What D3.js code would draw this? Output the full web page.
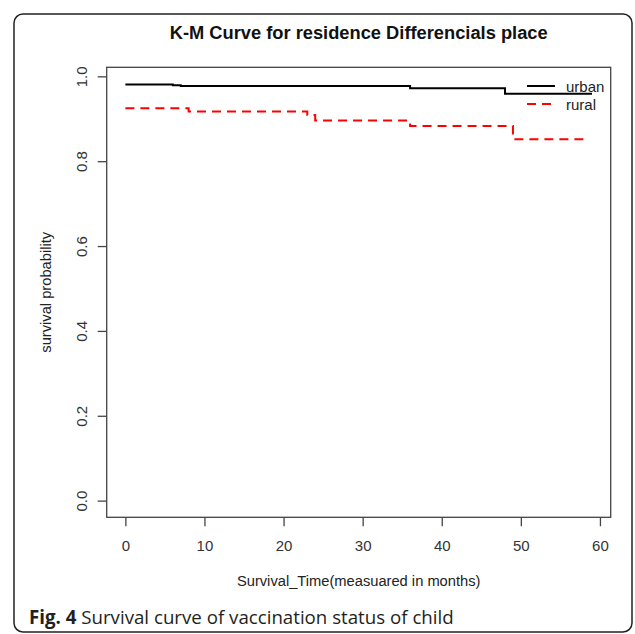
<!DOCTYPE html>
<html>
<head>
<meta charset="utf-8">
<script src="https://cdn.jsdelivr.net/npm/d3@7"></script>
<style>
  html, body { margin: 0; padding: 0; background: #fff; }
  svg { display: block; }
</style>
</head>
<body>
<div id="chart"></div>
<script>
const xTicks = [0, 10, 20, 30, 40, 50, 60];
const yTicks = [0, 0.2, 0.4, 0.6, 0.8, 1.0];

// K-M steps
const urbanTime = [0, 6, 7, 36, 48, 59];
const urbanSurv = [0.981, 0.979, 0.977, 0.972, 0.959, 0.959];
const ruralTime = [0, 8, 23, 24, 36, 49, 58];
const ruralSurv = [0.925, 0.917, 0.909, 0.896, 0.883, 0.852, 0.852];

const series = [
    { label: 'urban', time: urbanTime, surv: urbanSurv, color: '#000', dash: null },
    { label: 'rural', time: ruralTime, surv: ruralSurv, color: '#ff0000', dash: '9,6' }
];

const width = 635;
const height = 634;
const box = { left: 106.7, right: 610.7, top: 67.3, bottom: 517.3 };
const font = '"Liberation Sans", Arial, sans-serif';

// R style: data range padded by 4% on each side
const xlim = [0, 59];
const ylim = [0, 0.982];
const xPad = (xlim[1] - xlim[0]) * 0.04;
const yPad = (ylim[1] - ylim[0]) * 0.04;

const svg = d3.select('#chart')
    .append('svg')
    .attr('width', width)
    .attr('height', height);

// outer figure frame
svg.append('rect')
    .attr('x', 14)
    .attr('y', 14)
    .attr('width', 618)
    .attr('height', 618)
    .attr('rx', 9)
    .attr('fill', 'none')
    .attr('stroke', '#222')
    .attr('stroke-width', 1.5);

const x = d3.scaleLinear()
    .domain([xlim[0] - xPad, xlim[1] + xPad])
    .range([box.left, box.right]);

const y = d3.scaleLinear()
    .domain([ylim[0] - yPad, ylim[1] + yPad])
    .range([box.bottom, box.top]);

svg.append('text')
    .attr('x', (box.left + box.right) / 2)
    .attr('y', 39)
    .attr('text-anchor', 'middle')
    .attr('textLength', 378)
    .attr('lengthAdjust', 'spacingAndGlyphs')
    .style('font-family', font)
    .style('font-size', '18px')
    .style('font-weight', 'bold')
    .attr('fill', '#111')
    .text('K-M Curve for residence Differencials place');

svg.append('rect')
    .attr('x', box.left)
    .attr('y', box.top)
    .attr('width', box.right - box.left)
    .attr('height', box.bottom - box.top)
    .attr('fill', 'none')
    .attr('stroke', '#444')
    .attr('stroke-width', 1.3);

const xAxis = svg.append('g')
    .attr('transform', `translate(0,${box.bottom})`)
    .call(d3.axisBottom(x).tickValues(xTicks).tickSize(9).tickPadding(14).tickFormat(d3.format('d')));
xAxis.select('.domain').remove();
xAxis.selectAll('line').attr('stroke', '#444').attr('stroke-width', 1.3);
xAxis.selectAll('text')
    .attr('fill', '#333')
    .style('font-family', font)
    .style('font-size', '15px');

const yAxis = svg.append('g')
    .attr('transform', `translate(${box.left},0)`)
    .call(d3.axisLeft(y).tickValues(yTicks).tickSize(9).tickFormat(d3.format('.1f')));
yAxis.select('.domain').remove();
yAxis.selectAll('line').attr('stroke', '#444').attr('stroke-width', 1.3);
yAxis.selectAll('text')
    .attr('fill', '#333')
    .style('font-family', font)
    .style('font-size', '15px')
    .attr('x', null)
    .attr('dy', null)
    .attr('text-anchor', 'middle')
    .attr('transform', 'translate(-20,0) rotate(-90)');

svg.append('text')
    .attr('x', (box.left + box.right) / 2)
    .attr('y', 586)
    .attr('text-anchor', 'middle')
    .style('font-family', font)
    .style('font-size', '14.7px')
    .attr('fill', '#222')
    .text('Survival_Time(measuared in months)');

svg.append('text')
    .attr('transform', `translate(51,${(box.top + box.bottom) / 2}) rotate(-90)`)
    .attr('text-anchor', 'middle')
    .style('font-family', font)
    .style('font-size', '14.7px')
    .attr('fill', '#222')
    .text('survival probability');

const line = d3.line()
    .x(d => x(d[0]))
    .y(d => y(d[1]))
    .curve(d3.curveStepAfter);

for (const s of series) {
    svg.append('path')
        .datum(s.time.map((t, i) => [t, s.surv[i]]))
        .attr('fill', 'none')
        .attr('stroke', s.color)
        .attr('stroke-width', 2)
        .attr('stroke-dasharray', s.dash)
        .attr('d', line);
}

// legend, top right, no box
const legend = svg.append('g')
    .attr('transform', 'translate(527,86)');

series.forEach((s, i) => {
    const item = legend.append('g')
        .attr('transform', `translate(0,${i * 18})`);
    item.append('line')
        .attr('x1', 0)
        .attr('x2', 28)
        .attr('y1', 0)
        .attr('y2', 0)
        .attr('stroke', s.color)
        .attr('stroke-width', 2)
        .attr('stroke-dasharray', s.dash);
    item.append('text')
        .attr('x', 39)
        .attr('y', 6)
        .style('font-family', font)
        .style('font-size', '15px')
        .attr('fill', '#222')
        .text(s.label);
});

const caption = svg.append('text')
    .attr('x', 29)
    .attr('y', 624)
    .style('font-family', '"Open Sans", "Noto Sans", sans-serif')
    .style('font-size', '18.7px')
    .attr('fill', '#231f20');
caption.append('tspan').style('font-weight', 'bold').text('Fig. 4');
caption.append('tspan').text(' Survival curve of vaccination status of child');
</script>
</body>
</html>
